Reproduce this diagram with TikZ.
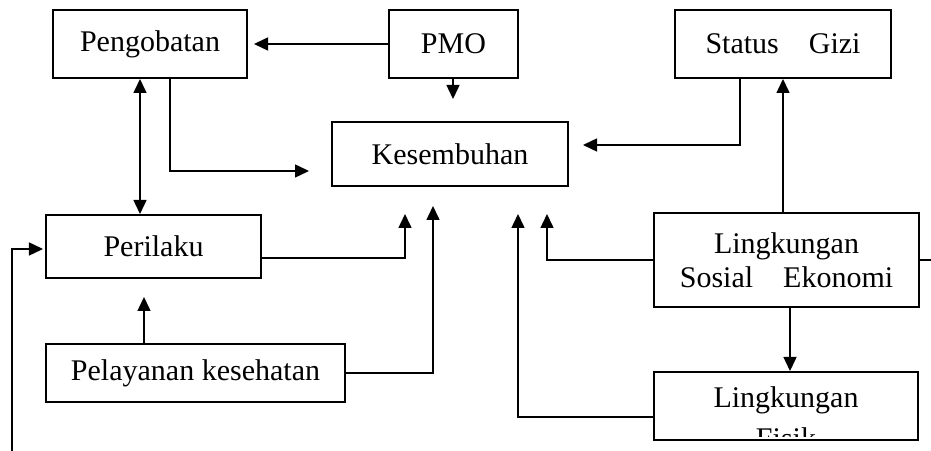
\documentclass[tikz,border=0pt]{standalone}
\usepackage{fontspec}
\setmainfont{Liberation Serif}
\usetikzlibrary{arrows.meta}

\tikzset{
  kotak/.style={draw, line width=0.8pt, inner sep=0pt, align=center,
    font=\fontsize{12}{13.4}\selectfont},
  panah/.style={line width=0.6pt, -{Triangle[length=5.6pt,width=5.2pt]}},
  dua/.style={line width=0.6pt, {Triangle[length=5.6pt,width=5.2pt]}-{Triangle[length=5.6pt,width=5.2pt]}}
}

\begin{document}
\begin{tikzpicture}[x=0.4pt,y=-0.4pt]
        \useasboundingbox (0,0) rectangle (931,451);
        % Kotak-kotak faktor
        \node[kotak, minimum width=77.6pt, minimum height=27.2pt] (peng) at (150,44) {Pengobatan};
        \node[kotak, minimum width=51.6pt, minimum height=27.2pt] (pmo) at (453.5,44) {PMO};
        \node[kotak, minimum width=94.4pt, minimum height=25.6pt] (sembuh) at (450,154) {Kesembuhan};
        \node[kotak, minimum width=86.4pt, minimum height=27.2pt] (gizi) at (783,44) {Status\ \ \ \ Gizi};
        \node[kotak, minimum width=86pt, minimum height=25.2pt] (perilaku) at (153.5,246.5) {Perilaku};
        \node[kotak, minimum width=119.6pt, minimum height=23.2pt] (layan) at (195.5,373) {Pelayanan kesehatan};
        \node[kotak, minimum width=106pt, minimum height=37.6pt] (sosek) at (786.5,260) {Lingkungan\\Sosial\ \ \ \ Ekonomi};
        \node[kotak, minimum width=105.6pt, minimum height=27.2pt] (fisik) at (786,406) {};
        % Teks kotak fisik terpotong di bawah
        \begin{scope}
          \clip (fisik.north west) rectangle ([yshift=2pt]fisik.south east);
          \node[align=center, inner sep=0pt, anchor=north, font=\fontsize{12}{13.4}\selectfont]
            (fisiktxt) at ([yshift=-6pt]fisik.north) {Lingkungan\\[3.2pt]Fisik};
        \end{scope}
        % Ujung panah yang bebas
        \coordinate (t1) at (453,99);
        \coordinate (t2) at (309,171);
        \coordinate (t3) at (405,214);
        \coordinate (t4) at (144,297);
        \coordinate (t5) at (433,206);
        \coordinate (t6) at (583,145);
        \coordinate (t7) at (547,214);
        \coordinate (t8) at (518,214);
        \coordinate (b1) at (12,451);
        \coordinate (b2) at (931,260);
        % Panah
        \draw[panah, shorten >=2.4pt] (pmo) -- (peng);
        \draw[panah] (pmo.south -| t1) -- (t1);
        \draw[panah] ([xshift=8pt]peng.south) |- (t2);
        \draw[dua] ([xshift=-4pt]peng.south) -- ([xshift=-4pt]peng.south |- perilaku.north);
        \draw[panah, shorten >=0.8pt] (b1) |- ([yshift=-1pt]perilaku.west);
        \draw[panah] ([yshift=-4.6pt]perilaku.east) -| (t3);
        \draw[panah] (layan.north -| t4) -- (t4);
        \draw[panah] (layan.east) -| (t5);
        \draw[panah] ([xshift=-17.2pt]gizi.south) |- (t6);
        \draw[panah] (sosek.north -| gizi.south) -- (gizi.south);
        \draw[panah] (sosek.west) -| (t7);
        \draw[panah] ([xshift=1.4pt]sosek.south) -- ([xshift=1.4pt]sosek.south |- fisik.north);
        \draw[panah] ([yshift=-4.4pt]fisik.west) -| (t8);
        \draw[line width=0.6pt] (sosek.east) -- (b2);
\end{tikzpicture}
\end{document}
